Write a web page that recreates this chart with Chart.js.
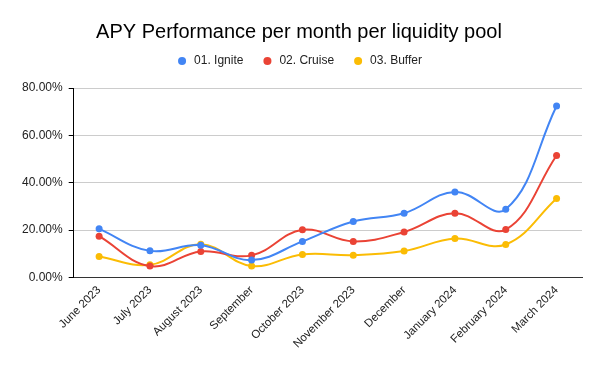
<!DOCTYPE html>
<html>
<head>
<meta charset="utf-8">
<script src="https://cdn.jsdelivr.net/npm/chart.js@4"></script>
<style>
    html, body { margin: 0; padding: 0; background: #fff; }
    #wrap { width: 600px; height: 371px; }
</style>
</head>
<body>
<div id="wrap"><canvas id="apyChart"></canvas></div>
<script>
const months = ['June 2023', 'July 2023', 'August 2023', 'September', 'October 2023',
    'November 2023', 'December', 'January 2024', 'February 2024', 'March 2024'];
const ignite = [20.5, 11.2, 13.6, 7.3, 15.2, 23.6, 27.1, 36.1, 28.8, 72.4];
const cruise = [17.4, 4.8, 10.9, 9.3, 20.1, 15.2, 19.2, 27.1, 20.2, 51.5];
const buffer = [8.8, 5.3, 14.0, 4.8, 9.7, 9.4, 11.1, 16.4, 13.9, 33.3];
const yTicks = [0, 20, 40, 60, 80];

(function () {
    'use strict';

    const FONT = "'Liberation Sans', Arial, sans-serif";
    const ctx = document.getElementById('apyChart');

    // extra room under the legend
    const legendMargin = {
        id: 'legendMargin',
        beforeInit(chart) {
            const fit = chart.legend.fit;
            chart.legend.fit = function () {
                fit.bind(chart.legend)();
                this.height += 11;
            };
        }
    };

    function series(label, data, color) {
        return {
            label: label,
            data: data,
            borderColor: color,
            backgroundColor: color,
            pointBackgroundColor: color,
            pointBorderColor: color,
            borderWidth: 2,
            pointRadius: 3.5,
            pointBorderWidth: 0,
            pointHoverRadius: 3.5,
            tension: 0.4,
            fill: false
        };
    }

    new Chart(ctx, {
        type: 'line',
        data: {
            labels: months,
            datasets: [
                series('01. Ignite', ignite, '#4285F4'),
                series('02. Cruise', cruise, '#EA4335'),
                series('03. Buffer', buffer, '#FBBC04')
            ]
        },
        plugins: [legendMargin],
        options: {
            responsive: true,
            maintainAspectRatio: false,
            animation: false,
            layout: {
                padding: { left: 16, right: 18, top: 6, bottom: 14 }
            },
            plugins: {
                title: {
                    display: true,
                    text: 'APY Performance per month per liquidity pool',
                    color: '#000',
                    font: { family: FONT, size: 20, weight: 'normal' },
                    padding: { top: 14, bottom: -7 }
                },
                legend: {
                    position: 'top',
                    labels: {
                        usePointStyle: true,
                        pointStyle: 'circle',
                        boxWidth: 12,
                        boxHeight: 5.7,
                        padding: 18,
                        color: '#222',
                        font: { family: FONT, size: 12 },
                        generateLabels: function (chart) {
                            return Chart.defaults.plugins.legend.labels.generateLabels(chart)
                                .map(item => Object.assign(item, { lineWidth: 0 }));
                        }
                    }
                },
                tooltip: { enabled: false }
            },
            scales: {
                x: {
                    offset: true,
                    grid: { display: false, drawTicks: false },
                    border: { display: true, color: '#333', width: 1 },
                    ticks: {
                        autoSkip: false,
                        maxRotation: 45,
                        minRotation: 45,
                        padding: 6,
                        color: '#222',
                        font: { family: FONT, size: 11.5 }
                    }
                },
                y: {
                    min: 0,
                    max: 80,
                    afterBuildTicks: function (axis) {
                        axis.ticks = yTicks.map(v => ({ value: v }));
                    },
                    grid: {
                        color: '#ccc',
                        tickColor: '#000',
                        tickLength: 5
                    },
                    border: { display: true, color: '#000', width: 1 },
                    ticks: {
                        color: '#222',
                        padding: 6,
                        font: { family: FONT, size: 12 },
                        callback: function (value) {
                            return value.toFixed(2) + '%';
                        }
                    }
                }
            }
        }
    });
})();
</script>
</body>
</html>
